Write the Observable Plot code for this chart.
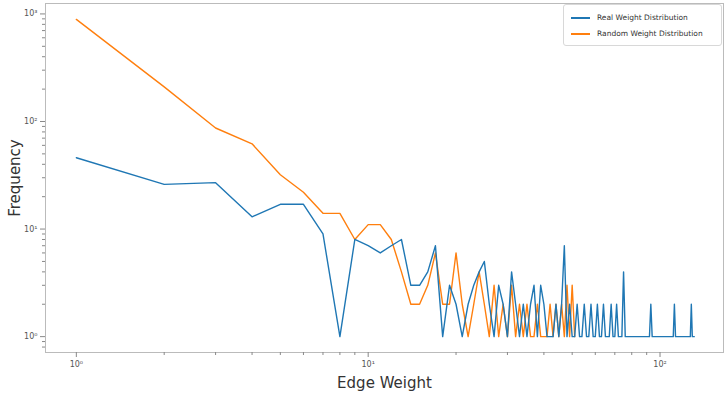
<!DOCTYPE html>
<html>
<head>
<meta charset="utf-8">
<script src="https://cdn.jsdelivr.net/npm/d3@7"></script>
<script src="https://cdn.jsdelivr.net/npm/@observablehq/plot@0.6"></script>
<style>
  html, body { margin: 0; padding: 0; background: #fff; }
  #wrap { position: relative; width: 728px; height: 394px; font-family: "DejaVu Sans", sans-serif; }
  #legend { position: absolute; left: 563px; top: 4px; width: 157px; height: 40px; border: 1px solid #d8d8d8; border-radius: 3px; background: rgba(255,255,255,0.85); font-size: 7.5px; color: #333; }
  .row { position: absolute; left: 7px; height: 10px; white-space: nowrap; }
  .sw { position: absolute; left: 0; top: 4px; width: 19px; height: 2px; }
  .tx { position: absolute; left: 26px; top: 0; line-height: 10px; }
</style>
</head>
<body>
<div id="wrap"></div>
<script>
const seriesNames = ["Real Weight Distribution", "Random Weight Distribution"];
const seriesColors = ["#1f77b4", "#ff7f0e"];

const realWeights = [1,2,3,4,5,6,7,8,9,10,11,12,13,14,15,16,17,18,19,20,21,22,23,24,25,26,27,28,29,30,31,32,33,34,35,36,37,38,39,40,41,42,43,44,45,46,47,48,49,50,51,52,53,54,55,56,57,58,59,60,61,62,63,64,65,66,67,68,69,70,71,72,73,74,75,76,92,93,94,111,112,113,127,128,129,131];
const realFreq = [46,26,27,13,17,17,9,1,8,7,6,7,8,3,3,4,7,1,3,2,1,2,3,4,5,2,1,3,2,1,4,2,1,2,1,2,3,1,3,2,1,1,1,2,1,2,7,1,2,1,1,2,1,1,2,1,1,2,1,1,2,1,1,2,1,1,1,2,1,1,2,1,1,1,4,1,1,2,1,1,2,1,1,2,1,1];

const randomWeights = [1,2,3,4,5,6,7,8,9,10,11,12,13,14,15,16,17,18,19,20,21,22,23,24,25,26,27,28,29,30,31,32,33,34,35,36,37,38,39,40,41,42,43,44,45,46,47,48,49,50,51];
const randomFreq = [890,210,87,62,32,22,14,14,8,11,11,8,4,2,2,3,6,2,2,6,2,1,2,4,2,1,3,1,2,1,3,1,2,1,2,1,1,2,1,1,1,2,1,2,1,2,1,3,1,3,1];

const xMajor = [1, 10, 100];
const yMajor = [1, 10, 100, 1000];
const xMinor = [2,3,4,5,6,7,8,9,20,30,40,50,60,70,80,90];
const yMinor = [0.8,0.9,2,3,4,5,6,7,8,9,20,30,40,50,60,70,80,90,200,300,400,500,600,700,800,900];
const sup = {"0":"⁰","1":"¹","2":"²","3":"³"};
const fmt = d => "10" + sup[String(Math.round(Math.log10(d)))];

const real = realWeights.map((w, i) => ({w, f: realFreq[i], s: seriesNames[0]}));
const rand = randomWeights.map((w, i) => ({w, f: randomFreq[i], s: seriesNames[1]}));

const chart = Plot.plot({
  width: 728,
  height: 394,
  marginLeft: 45,
  marginRight: 5,
  marginTop: 3,
  marginBottom: 42,
  style: {fontFamily: "DejaVu Sans, sans-serif", background: "#fff"},
  x: {type: "log", domain: [0.784, 165], label: "Edge Weight"},
  y: {type: "log", domain: [0.712, 1250], label: "Frequency"},
  marks: [
    Plot.frame({stroke: "#bbb", strokeWidth: 1}),
    Plot.axisX(xMinor, {tickSize: 3, tickFormat: () => "", stroke: "#888", label: null}),
    Plot.axisX(xMajor, {tickSize: 5, tickFormat: fmt, fontSize: 8, fill: "#555", stroke: "#888", tickPadding: 4, label: "Edge Weight", labelAnchor: "center", labelArrow: "none", labelOffset: 35}),
    Plot.axisY(yMinor.filter(d => d >= 0.712), {tickSize: 3, tickFormat: () => "", stroke: "#888", label: null}),
    Plot.axisY(yMajor, {tickSize: 5, tickFormat: fmt, fontSize: 8, fill: "#555", stroke: "#888", tickPadding: 3, label: "Frequency", labelAnchor: "center", labelArrow: "none", labelOffset: 36}),
    Plot.line(rand, {x: "w", y: "f", stroke: seriesColors[1], strokeWidth: 1.4}),
    Plot.line(real, {x: "w", y: "f", stroke: seriesColors[0], strokeWidth: 1.4})
  ]
});

chart.querySelectorAll("g[aria-label='x-axis label'] text, g[aria-label='y-axis label'] text").forEach(t => {
  t.setAttribute("font-size", "15");
  t.setAttribute("fill", "#333");
});

const wrap = document.getElementById("wrap");
wrap.appendChild(chart);
const legend = document.createElement("div");
legend.id = "legend";
seriesNames.forEach((name, i) => {
  const row = document.createElement("div");
  row.className = "row";
  row.style.top = (i === 0 ? 8 : 24) + "px";
  const sw = document.createElement("div");
  sw.className = "sw";
  sw.style.backgroundColor = seriesColors[i];
  const tx = document.createElement("div");
  tx.className = "tx";
  tx.textContent = name;
  row.appendChild(sw); row.appendChild(tx);
  legend.appendChild(row);
});
wrap.appendChild(legend);
</script>
</body>
</html>
